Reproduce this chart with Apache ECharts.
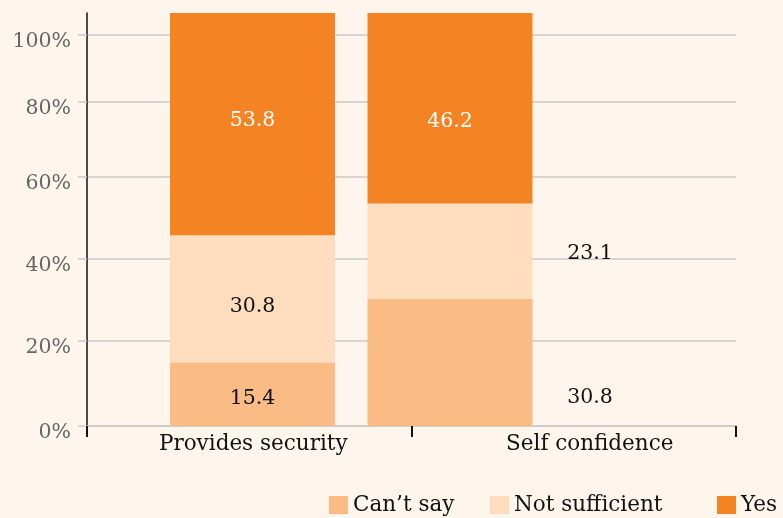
<!DOCTYPE html>
<html>
<head>
<meta charset="utf-8">
<script src="https://cdn.jsdelivr.net/npm/echarts@6/dist/echarts.min.js"></script>
<style>
  html, body { margin: 0; padding: 0; background: #FEF5EC; }
  #chart { width: 783px; height: 518px; }
</style>
</head>
<body>
<div id="chart"></div>
<script>
// Survey answers per statement, shares in percent
const categories = ['Provides security', 'Self confidence'];
const seriesNames = ["Can\u2019t say", 'Not sufficient', 'Yes'];
const cantSay = [15.4, 30.8];
const notSufficient = [30.8, 23.1];
const yes = [53.8, 46.2];

// Gridline values on the percentage scale and their tick labels
const gridValues = [0, 20.6, 40.4, 60.3, 78.5, 94.7];
const tickLabels = ['0%', '20%', '40%', '60%', '80%', '100%'];

const FONT = 'DejaVu Serif';
const colors = ['#FABB85', '#FEDDBE', '#F48423'];
const gridColor = '#C9C9C9';

// label nudges [dx, dy] per series, per category
const labelNudge = [
  [[0, 4], [140, 35]],
  [[0, 8], [140, 3]],
  [[0, -3], [0, 13]]
];

// left edge of each legend entry
const legendLefts = [329, 490, 717];

const values = [cantSay, notSufficient, yes];

const chart = echarts.init(document.getElementById('chart'), null, { renderer: 'canvas' });

const series = values.map((arr, s) => ({
  name: seriesNames[s],
  type: 'bar',
  stack: 'total',
  xAxisIndex: 1,
  yAxisIndex: 1,
  barWidth: 165,
  itemStyle: { color: colors[s] },
  data: arr.map((v, i) => ({
    value: v,
    label: {
      show: true,
      position: 'inside',
      offset: labelNudge[s][i],
      formatter: String(v),
      color: s === 2 ? '#FFFFFF' : '#111111',
      fontFamily: FONT,
      fontSize: 20.5
    }
  }))
}));

const legends = seriesNames.map((n, k) => ({
  data: [n],
  left: legendLefts[k],
  top: 494,
  padding: 0,
  itemWidth: 19,
  itemHeight: 18,
  itemGap: 0,
  itemTextGap: 8,
  icon: 'rect',
  selectedMode: false,
  textStyle: { fontFamily: FONT, fontSize: 21.5, color: '#111111' }
}));

chart.setOption({
  backgroundColor: '#FEF5EC',
  animation: false,
  grid: [
    { left: 87, right: 47, top: 13, bottom: 92, containLabel: false },
    { left: 153.75, right: 234.25, top: 13, bottom: 92, containLabel: false }
  ],
  legend: legends,
  xAxis: [
    {
      type: 'category',
      gridIndex: 0,
      data: categories,
      axisLine: { show: true, lineStyle: { color: gridColor, width: 1.5 } },
      axisTick: { show: true, length: 11, lineStyle: { color: '#111111', width: 2 } },
      axisLabel: {
        margin: 7,
        fontFamily: FONT,
        fontSize: 21.5,
        color: '#111111',
        formatter: (v, i) => (i === 1 ? '{b|' + v + '}' : '{a|' + v + '}'),
        rich: {
          a: { fontFamily: FONT, fontSize: 21.5, color: '#111111', padding: [0, 0, 0, 8] },
          b: { fontFamily: FONT, fontSize: 21.5, color: '#111111', padding: [0, 0, 0, 32] }
        }
      },
      splitLine: { show: false }
    },
    {
      type: 'category',
      gridIndex: 1,
      data: categories,
      show: false
    }
  ],
  yAxis: [
    {
      type: 'value',
      gridIndex: 0,
      min: 0,
      max: 100,
      axisLine: { show: true, lineStyle: { color: '#111111', width: 1.5 } },
      axisTick: { show: true, length: 9, customValues: gridValues, lineStyle: { color: gridColor, width: 1.5 } },
      axisLabel: {
        customValues: gridValues,
        margin: 16,
        fontFamily: FONT,
        fontSize: 20.5,
        color: '#666666',
        formatter: (v) => {
          let k = 0, best = Infinity;
          gridValues.forEach((g, j) => { const d = Math.abs(g - v); if (d < best) { best = d; k = j; } });
          return '{t|' + tickLabels[k] + '}';
        },
        rich: {
          t: { fontFamily: FONT, fontSize: 20.5, color: '#666666', padding: [13, 0, 0, 0] }
        }
      },
      splitLine: { show: true, lineStyle: { color: gridColor, width: 1.5 } }
    },
    {
      type: 'value',
      gridIndex: 1,
      min: 0,
      max: 100,
      show: false,
      splitLine: { show: false }
    }
  ],
  series: series
});
</script>
</body>
</html>
